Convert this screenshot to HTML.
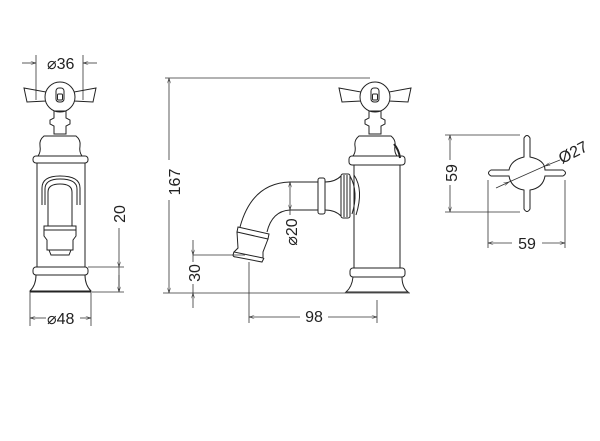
<!DOCTYPE html>
<html><head><meta charset="utf-8"><style>
html,body{margin:0;padding:0;background:#fff;}
svg{display:block;}
text{font-family:"Liberation Sans",sans-serif;font-size:16px;fill:#222;}
</style></head><body>
<svg width="600" height="441" viewBox="0 0 600 441" xmlns="http://www.w3.org/2000/svg">
<defs>
<marker id="a" viewBox="0 0 10 6" refX="10" refY="3" markerWidth="7" markerHeight="4" orient="auto-start-reverse"><path d="M0,0 L10,3 L0,6" fill="none" stroke="#333" stroke-width="1"/></marker>
</defs>
<g fill="none" stroke="#333" stroke-width="0.8">
<line x1="36" y1="55" x2="36" y2="100"/><line x1="83" y1="55" x2="83" y2="100"/>
<line x1="22" y1="63" x2="36" y2="63" marker-end="url(#a)"/><line x1="97" y1="63" x2="83" y2="63" marker-end="url(#a)"/>
<line x1="88" y1="267" x2="124" y2="267"/><line x1="92" y1="292" x2="124" y2="292"/>
<line x1="119" y1="228" x2="119" y2="267" marker-end="url(#a)"/><line x1="119" y1="292" x2="119" y2="267"/><line x1="119" y1="275" x2="119" y2="292" marker-end="url(#a)"/>
<line x1="30" y1="292" x2="30" y2="326"/><line x1="91" y1="292" x2="91" y2="326"/>
<line x1="46" y1="318" x2="30" y2="318" marker-end="url(#a)"/><line x1="80" y1="318" x2="91" y2="318" marker-end="url(#a)"/>
</g>
<g fill="none" stroke="#222" stroke-width="1">
<path d="M24,88 L46,92 L46,101 L27,102 Z"/><path d="M96,88 L74,92 L74,101 L93,102 Z"/>
<circle cx="60" cy="97" r="15" fill="#fff"/>
<rect x="56" y="88" width="8" height="14" rx="3"/><rect x="57.5" y="94" width="5" height="6" rx="1"/>
<path d="M54,111 L66,111 L66,118 L70,120 L70,124 L66,126 L66,134 L54,134 L54,126 L50,124 L50,120 L54,118 Z"/>
<path d="M44,136 L76,136 Q81,140 80,146 Q79,152 82,156 L38,156 Q41,152 40,146 Q39,140 44,136 Z"/>
<rect x="33" y="156" width="55" height="7" rx="3"/>
<line x1="37" y1="163" x2="37" y2="267"/><line x1="85" y1="163" x2="85" y2="267"/>
<path d="M42,205 L42,188 Q42,176 60,176 Q80,176 80,188 L80,205"/>
<path d="M45,205 L45,189 Q45,179 60,179 Q77,179 77,189 L77,205"/>
<path d="M48,226 L48,192 Q48,184 60,184 Q72,184 72,192 L72,226"/>
<path d="M44,226 L76,226 L76,236 L73,240 L73,250 L47,250 L47,240 L44,236 Z"/>
<line x1="44" y1="230" x2="76" y2="230"/>
<path d="M49,250 L71,250 L69,255 L51,255 Z"/>
<rect x="33" y="267" width="55" height="8" rx="3"/>
<path d="M36,275 L85,275 Q85,285 91,291 L30,291 Q36,285 36,275 Z"/>
<line x1="30" y1="292" x2="91" y2="292"/>
</g>
<text x="47" y="69">⌀36</text>
<text x="47" y="324">⌀48</text>
<text transform="translate(125,214) rotate(-90)" text-anchor="middle">20</text>

<g fill="none" stroke="#333" stroke-width="0.8">
<line x1="165" y1="78" x2="370" y2="78"/><line x1="163" y1="293" x2="410" y2="293"/>
<line x1="169" y1="160" x2="169" y2="78" marker-end="url(#a)"/><line x1="169" y1="200" x2="169" y2="293" marker-end="url(#a)"/>
<line x1="193" y1="255" x2="245" y2="255"/>
<line x1="193" y1="240" x2="193" y2="255" marker-end="url(#a)"/><line x1="193" y1="308" x2="193" y2="293" marker-end="url(#a)"/>
<line x1="193" y1="255" x2="193" y2="262"/><line x1="193" y1="284" x2="193" y2="293"/>
<line x1="249" y1="262" x2="249" y2="323"/><line x1="377" y1="300" x2="377" y2="323"/>
<line x1="300" y1="317" x2="249" y2="317" marker-end="url(#a)"/><line x1="328" y1="317" x2="377" y2="317" marker-end="url(#a)"/>
<line x1="290" y1="195" x2="290" y2="182" marker-end="url(#a)"/><line x1="290" y1="195" x2="290" y2="210" marker-end="url(#a)"/>
<line x1="290" y1="210" x2="290" y2="215"/>
</g>
<g fill="none" stroke="#222" stroke-width="1">
<path d="M339,88 L361,92 L361,101 L342,102 Z"/><path d="M411,88 L389,92 L389,101 L408,102 Z"/>
<circle cx="375" cy="97" r="15" fill="#fff"/>
<rect x="371" y="88" width="8" height="14" rx="3"/><rect x="372.5" y="94" width="5" height="6" rx="1"/>
<path d="M369,111 L381,111 L381,118 L385,120 L385,124 L381,126 L381,134 L369,134 L369,126 L365,124 L365,120 L369,118 Z"/>
<path d="M359,136 L391,136 Q396,140 395,146 Q394,152 397,156 L353,156 Q356,152 355,146 Q354,140 359,136 Z"/>
<path d="M394,144 Q399,150 400,158" stroke-width="2"/>
<rect x="349" y="156" width="56" height="9" rx="3"/>
<line x1="354" y1="165" x2="354" y2="268"/><line x1="400" y1="165" x2="400" y2="268"/>
<rect x="350" y="268" width="55" height="9" rx="3"/>
<path d="M353,277 L402,277 Q402,287 408,292 L346,292 Q352,287 353,277 Z"/>
<path d="M354,175 Q364,190 356,215"/><path d="M350,176 Q359,192 352,214"/>
<rect x="341" y="174" width="9" height="44" rx="2"/>
<line x1="344" y1="175" x2="344" y2="217"/><line x1="347" y1="175" x2="347" y2="217"/>
<path d="M325,182 Q335,182 341,176 M325,210 Q335,210 341,216"/>
<rect x="318" y="178" width="7" height="36" rx="2"/>
<line x1="290" y1="182" x2="318" y2="182"/><line x1="290" y1="210" x2="318" y2="210"/>
<path d="M290,182 Q252,183 240,227"/>
<path d="M290,210 Q272,211 267,232"/>
<path d="M238,227 L269,234 L268,239 L237,232 Z"/>
<path d="M237,232 L238,248 L234,252 L263,258 L263,252 L268,239"/>
<path d="M234,252 L233,255 Q233,257 236,257 L262,262 L264,258"/>
</g>
<text transform="translate(180,182) rotate(-90)" text-anchor="middle">167</text>
<text transform="translate(200,273) rotate(-90)" text-anchor="middle">30</text>
<text transform="translate(297,232) rotate(-90)" text-anchor="middle">⌀20</text>
<text x="314" y="322" text-anchor="middle">98</text>

<g fill="none" stroke="#333" stroke-width="0.8">
<line x1="445" y1="135" x2="520" y2="135"/><line x1="445" y1="212" x2="520" y2="212"/>
<line x1="450" y1="160" x2="450" y2="135" marker-end="url(#a)"/><line x1="450" y1="185" x2="450" y2="212" marker-end="url(#a)"/>
<line x1="488" y1="180" x2="488" y2="248"/><line x1="565" y1="180" x2="565" y2="248"/>
<line x1="512" y1="243" x2="488" y2="243" marker-end="url(#a)"/><line x1="542" y1="243" x2="565" y2="243" marker-end="url(#a)"/>
<line x1="496" y1="188" x2="509" y2="182" marker-end="url(#a)"/><line x1="560" y1="160" x2="545" y2="166" marker-end="url(#a)"/>
<line x1="509" y1="182" x2="545" y2="166"/>
</g>
<g fill="none" stroke="#222" stroke-width="1">
<path d="M524,157 L524,138 Q527,133 530,138 L530,157 Q545,160 545,170 L563,170 Q568,173 563,176 L545,176 Q543,188 530,190 L530,209 Q527,214 524,209 L524,190 Q511,188 509,176 L491,176 Q486,173 491,170 L509,170 Q511,160 524,157 Z"/>
</g>
<text transform="translate(457,173) rotate(-90)" text-anchor="middle">59</text>
<text x="527" y="249" text-anchor="middle">59</text>
<text transform="translate(562,164) rotate(-27)">Ø27</text>
</svg>
</body></html>
